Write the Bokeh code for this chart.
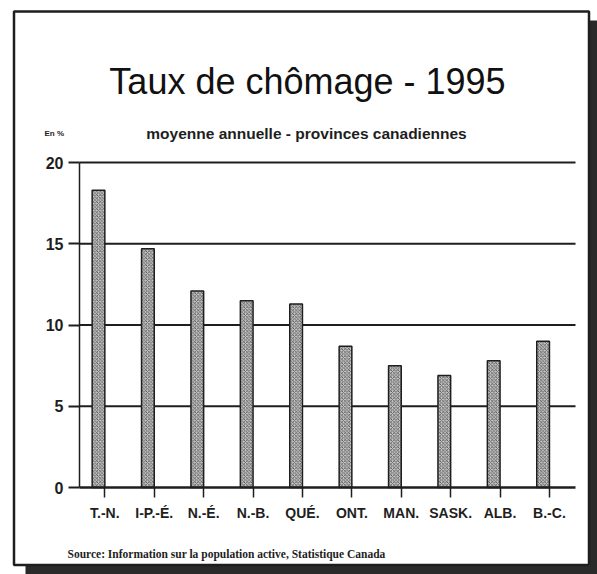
from bokeh.plotting import figure
from bokeh.models import Range1d, FixedTicker, Label, BoxAnnotation, LinearAxis
from bokeh.embed import file_html
from bokeh.resources import INLINE

# ---- data ----
provinces = ["T.-N.", "I-P.-É.", "N.-É.", "N.-B.", "QUÉ.", "ONT.", "MAN.", "SASK.", "ALB.", "B.-C."]
taux = [18.3, 14.7, 12.1, 11.5, 11.3, 8.7, 7.5, 6.9, 7.8, 9.0]
y_ticks = [0, 5, 10, 15, 20]
title_text = "Taux de chômage - 1995"
subtitle_text = "moyenne annuelle - provinces canadiennes"
unit_text = "En %"
source_text = "Source: Information sur la population active, Statistique Canada"

W, H = 597, 574
INK = "#1e1e1e"

x_pos = list(range(len(provinces)))
bar_w = 0.257
tick_pos = [i + bar_w / 2 for i in x_pos]

# scale: canvas px = 98 + 49.4*x ; canvas py = 487 - 16.25*y
SX, SY = 49.4, 16.25
X0, Y0 = 98, 487
x_lo = -0.385
x_hi = 9.656

p = figure(width=W, height=H, output_backend="svg", toolbar_location=None,
           x_range=Range1d(-X0 / SX, (W - X0) / SX),
           y_range=Range1d((Y0 - H) / SY, Y0 / SY),
           x_axis_type=None, y_axis_type=None, min_border=0)
p.outline_line_color = None
p.background_fill_color = "white"
p.border_fill_color = "white"
p.xgrid.visible = False
p.ygrid.visible = False

# horizontal grid lines
p.segment(x0=[x_lo] * (len(y_ticks) - 1), x1=[x_hi] * (len(y_ticks) - 1),
          y0=y_ticks[1:], y1=y_ticks[1:], line_color=INK, line_width=2)

# bars
p.vbar(x=x_pos, top=taux, width=bar_w, bottom=0,
       fill_color="#c4c4c4", line_color=INK, line_width=1.5,
       hatch_pattern="x", hatch_scale=3.5, hatch_color="#4a4a4a", hatch_weight=0.8)

# axes
yax = LinearAxis(fixed_location=x_lo, bounds=(0, 20), ticker=FixedTicker(ticks=y_ticks))
yax.axis_line_color = INK
yax.axis_line_width = 1.5
yax.major_tick_out = 11
yax.major_tick_in = 0
yax.major_tick_line_width = 2
yax.major_tick_line_color = INK
yax.minor_tick_line_color = None
yax.major_label_standoff = 5
yax.major_label_text_font = "Liberation Sans"
yax.major_label_text_font_style = "bold"
yax.major_label_text_font_size = "16px"
yax.major_label_text_color = INK
p.add_layout(yax, "left")

xax = LinearAxis(fixed_location=0, bounds=(x_lo, x_hi), ticker=FixedTicker(ticks=tick_pos))
xax.major_label_overrides = {t: lab for t, lab in zip(tick_pos, provinces)}
xax.axis_line_color = INK
xax.axis_line_width = 2.5
xax.major_tick_out = 10
xax.major_tick_in = 0
xax.major_tick_line_width = 1.5
xax.major_tick_line_color = INK
xax.minor_tick_line_color = None
xax.major_label_standoff = 7
xax.major_label_text_font = "Liberation Sans"
xax.major_label_text_font_style = "bold"
xax.major_label_text_font_size = "14px"
xax.major_label_text_color = INK
p.add_layout(xax, "below")


# helpers: canvas pixel -> data (annotation placement only)
def px2x(px):
    return (px - X0) / SX


def px2y(py):
    return (Y0 - py) / SY


p.add_layout(Label(x=px2x(307), y=px2y(81), text=title_text, text_align="center",
                   text_baseline="alphabetic", text_font="Liberation Sans",
                   text_font_size="36px", text_color="#111111"))
p.add_layout(Label(x=px2x(306), y=px2y(133), text=subtitle_text, text_align="center",
                   text_baseline="alphabetic", text_font="Liberation Sans",
                   text_font_style="bold", text_font_size="15.5px", text_color=INK))
p.add_layout(Label(x=px2x(44), y=px2y(133), text=unit_text, text_align="left",
                   text_baseline="alphabetic", text_font="Liberation Sans",
                   text_font_style="bold", text_font_size="8px", text_color=INK))
p.add_layout(Label(x=px2x(67), y=px2y(553), text=source_text, text_align="left",
                   text_baseline="alphabetic", text_font="Liberation Serif",
                   text_font_style="bold", text_font_size="11.5px", text_color=INK))

# frame with drop shadow
p.add_layout(BoxAnnotation(left=px2x(589), right=px2x(597), top=px2y(20), bottom=px2y(574),
                           fill_color="#2a2a2a", fill_alpha=1, line_color=None))
p.add_layout(BoxAnnotation(left=px2x(25), right=px2x(597), top=px2y(565), bottom=px2y(574),
                           fill_color="#2a2a2a", fill_alpha=1, line_color=None))
p.add_layout(BoxAnnotation(left=px2x(13.5), right=px2x(588.5), top=px2y(11), bottom=px2y(564.5),
                           fill_alpha=0, line_color=INK, line_width=2.5, line_alpha=1))

open("out.html", "w").write(file_html(p, INLINE))
